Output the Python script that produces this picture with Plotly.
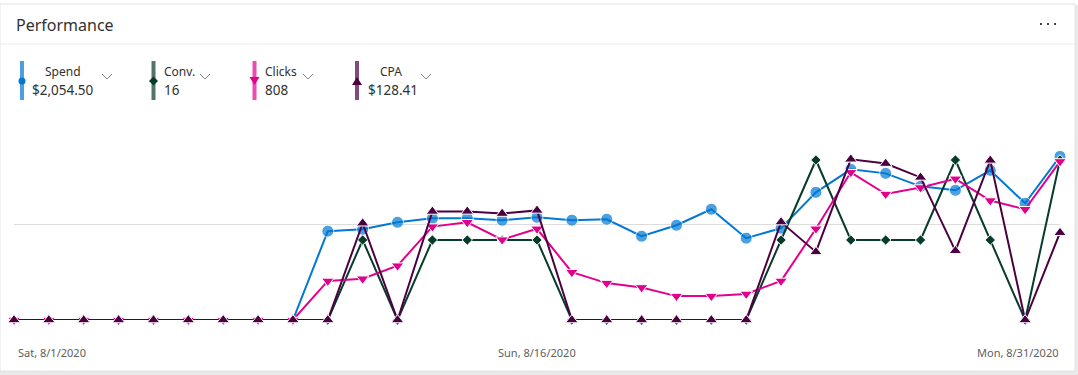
import plotly.graph_objects as go

W, H = 1078, 375

dates = ["2020-08-01", "2020-08-02", "2020-08-03", "2020-08-04", "2020-08-05", "2020-08-06",
         "2020-08-07", "2020-08-08", "2020-08-09", "2020-08-10", "2020-08-11", "2020-08-12",
         "2020-08-13", "2020-08-14", "2020-08-15", "2020-08-16", "2020-08-17", "2020-08-18",
         "2020-08-19", "2020-08-20", "2020-08-21", "2020-08-22", "2020-08-23", "2020-08-24",
         "2020-08-25", "2020-08-26", "2020-08-27", "2020-08-28", "2020-08-29", "2020-08-30",
         "2020-08-31"]

spend = [0, 0, 0, 0, 0, 0, 0, 0, 0, 74.05, 75.60, 81.45, 84.80, 84.85, 83.15, 85.60,
         83.20, 83.95, 69.85, 79.00, 92.30, 68.20, 76.50, 106.40, 125.55, 122.20, 111.40,
         108.10, 124.70, 97.30, 136.35]
conv = [0, 0, 0, 0, 0, 0, 0, 0, 0, 0, 1, 0, 1, 1, 1, 1, 0, 0, 0, 0, 0, 0, 1, 2, 1, 1, 1,
        2, 1, 0, 2]
clicks = [0, 0, 0, 0, 0, 0, 0, 0, 0, 18, 19, 25, 43, 45, 37, 42, 22, 17, 15, 11, 11, 12,
          18, 42, 68, 58, 61, 65, 55, 51, 73]
cpa = [0, 0, 0, 0, 0, 0, 0, 0, 0, 0, 75.60, 0, 84.80, 84.85, 83.15, 85.60, 0, 0, 0, 0, 0,
       0, 76.50, 53.20, 125.55, 122.20, 111.40, 54.05, 124.70, 0, 68.18]

series_names = ["Spend", "Conv.", "Clicks", "CPA"]
tick_labels = ["Sat, 8/1/2020", "Sun, 8/16/2020", "Mon, 8/31/2020"]
tick_dates = ["2020-08-01", "2020-08-16", "2020-08-31"]

total_spend = sum(spend)
total_conv = sum(conv)
total_clicks = sum(clicks)
total_cpa = total_spend / total_conv
legend_values = [f"${total_spend:,.2f}", f"{total_conv}", f"{total_clicks}", f"${total_cpa:,.2f}"]

C_SPEND = "#0078D4"
C_CONV = "#073B2A"
C_CLICKS = "#E3008C"
C_CPA = "#4B0041"
colors = [C_SPEND, C_CONV, C_CLICKS, C_CPA]


def X(px):
    return px / W


def Y(py):
    return 1 - py / H


fig = go.Figure()

fig.add_trace(go.Scatter(
    x=dates, y=spend, name="Spend", mode="lines+markers", yaxis="y",
    line=dict(color=C_SPEND, width=2),
    marker=dict(symbol="circle", size=[0 if v == 0 else 12 for v in spend], color=C_SPEND,
                line=dict(color="white", width=1)),
    cliponaxis=False))
fig.add_trace(go.Scatter(
    x=dates, y=conv, name="Conv.", mode="lines+markers", yaxis="y2",
    line=dict(color=C_CONV, width=2),
    marker=dict(symbol="diamond", size=8, color=C_CONV, line=dict(color="white", width=1)),
    cliponaxis=False))
fig.add_trace(go.Scatter(
    x=dates, y=clicks, name="Clicks", mode="lines+markers", yaxis="y3",
    line=dict(color=C_CLICKS, width=2),
    marker=dict(symbol="triangle-down", size=11, color=C_CLICKS, line=dict(color="white", width=1)),
    cliponaxis=False))
fig.add_trace(go.Scatter(
    x=dates, y=cpa, name="CPA", mode="lines+markers", yaxis="y4",
    line=dict(color=C_CPA, width=2),
    marker=dict(symbol="triangle-up", size=11, color=C_CPA, line=dict(color="white", width=1)),
    cliponaxis=False))

shapes = []
# card shadow and card
shapes.append(dict(type="rect", xref="paper", yref="paper", x0=X(0), x1=X(1078), y0=Y(375), y1=Y(5),
                   fillcolor="#e9e9e9", line=dict(width=0), layer="below"))
shapes.append(dict(type="rect", xref="paper", yref="paper", x0=X(0), x1=X(1075), y0=Y(371), y1=Y(4),
                   fillcolor="white", line=dict(color="#e3e3e3", width=1), layer="below"))
# header separator
shapes.append(dict(type="line", xref="paper", yref="paper", x0=X(0), x1=X(1075), y0=Y(44), y1=Y(44),
                   line=dict(color="#ebebeb", width=1), layer="below"))
# more dots
for dx in [1041, 1048, 1055]:
    shapes.append(dict(type="rect", xref="paper", yref="paper", x0=X(dx - 1), x1=X(dx + 1),
                       y0=Y(25), y1=Y(23), fillcolor="#444444", line=dict(width=0)))

annotations = []
annotations.append(dict(text="Performance", x=X(14), y=Y(25), xref="paper", yref="paper",
                        xanchor="left", yanchor="middle", showarrow=False,
                        font=dict(family="Noto Sans", size=16, color="#323130")))

# legend items
leg = [
    # bar_x, label_x, value_x, chevron_x
    (22, 43, 30, 107),
    (153.5, 162, 162, 205),
    (254.5, 263, 263, 308),
    (357, 378, 366, 426),
]
for (bx, lx, vx, cx), name, val, col, sym in zip(leg, series_names, legend_values, colors,
                                                  ["circle", "diamond", "down", "up"]):
    shapes.append(dict(type="rect", xref="paper", yref="paper", x0=X(bx - 2), x1=X(bx + 2),
                       y0=Y(100), y1=Y(61), fillcolor=col, opacity=0.7, line=dict(width=0)))
    my = 81
    if sym == "circle":
        shapes.append(dict(type="circle", xref="paper", yref="paper", x0=X(bx - 3.5), x1=X(bx + 3.5),
                           y0=Y(my + 3.5), y1=Y(my - 3.5), fillcolor=col, line=dict(width=0)))
    elif sym == "diamond":
        p = f"M {X(bx-4.5)},{Y(my)} L {X(bx)},{Y(my-4.5)} L {X(bx+4.5)},{Y(my)} L {X(bx)},{Y(my+4.5)} Z"
        shapes.append(dict(type="path", xref="paper", yref="paper", path=p, fillcolor=col, line=dict(width=0)))
    elif sym == "down":
        p = f"M {X(bx-5)},{Y(my-4)} L {X(bx+5)},{Y(my-4)} L {X(bx)},{Y(my+4)} Z"
        shapes.append(dict(type="path", xref="paper", yref="paper", path=p, fillcolor=col, line=dict(width=0)))
    else:
        p = f"M {X(bx-5)},{Y(my+4)} L {X(bx+5)},{Y(my+4)} L {X(bx)},{Y(my-4)} Z"
        shapes.append(dict(type="path", xref="paper", yref="paper", path=p, fillcolor=col, line=dict(width=0)))
    # chevron
    p = f"M {X(cx-5)},{Y(74)} L {X(cx)},{Y(79)} L {X(cx+5)},{Y(74)}"
    shapes.append(dict(type="path", xref="paper", yref="paper", path=p,
                       line=dict(color="#8a8886", width=1)))
    annotations.append(dict(text=name, x=X(lx), y=Y(72), xref="paper", yref="paper",
                            xanchor="left", yanchor="middle", showarrow=False,
                            font=dict(family="Noto Sans", size=12, color="#323130")))
    annotations.append(dict(text=val, x=X(vx), y=Y(90), xref="paper", yref="paper",
                            xanchor="left", yanchor="middle", showarrow=False,
                            font=dict(family="Noto Sans", size=13.5, color="#323130")))

# x tick labels
for d, t, anc, sh in zip(tick_dates, tick_labels, ["left", "center", "right"], [2, 0, 0]):
    annotations.append(dict(text=t, x=d, y=Y(352), xref="x", yref="paper", xanchor=anc,
                            yanchor="middle", xshift=sh, showarrow=False,
                            font=dict(family="Noto Sans", size=11, color="#605E5C")))

ydom = [Y(320), Y(128)]
fig.update_layout(
    width=W, height=H,
    margin=dict(l=0, r=0, t=0, b=0),
    paper_bgcolor="white", plot_bgcolor="rgba(0,0,0,0)",
    showlegend=False,
    xaxis=dict(domain=[X(14), X(1060)], range=[dates[0], dates[-1]], type="date",
               showgrid=False, showticklabels=False, zeroline=False, showline=False, ticks=""),
    yaxis=dict(domain=ydom, range=[0, 160], tickvals=[0, 80], showticklabels=False,
               showgrid=True, gridcolor="#dcdcdc", gridwidth=1, zeroline=False, showline=False),
    yaxis2=dict(domain=ydom, range=[0, 2.4], overlaying="y", visible=False),
    yaxis3=dict(domain=ydom, range=[0, 88.4], overlaying="y", visible=False),
    yaxis4=dict(domain=ydom, range=[0, 150], overlaying="y", visible=False),
    shapes=shapes,
    annotations=annotations,
    font=dict(family="Noto Sans"),
)

fig.write_html("out.html", config={"displayModeBar": False},
               post_script="document.body.style.margin='0';")
